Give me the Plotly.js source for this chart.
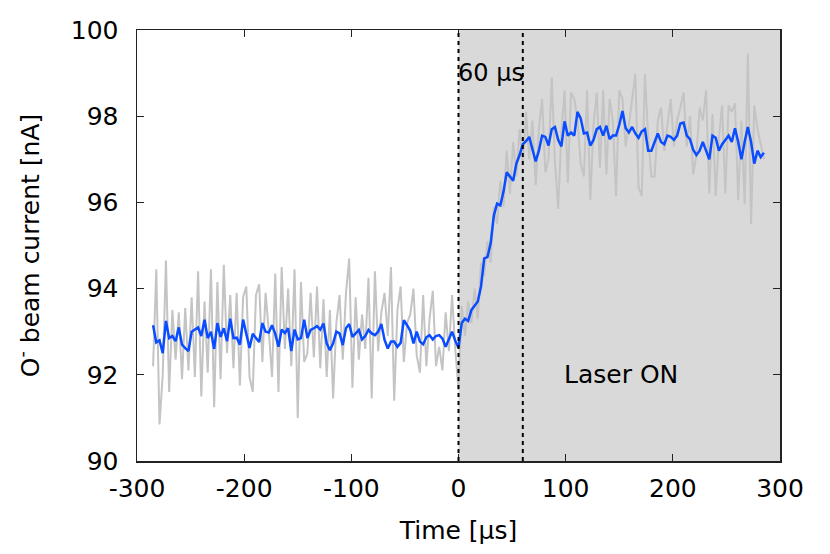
<!DOCTYPE html>
<html>
<head>
<meta charset="utf-8">
<script src="https://cdn.plot.ly/plotly-3.0.1.min.js"></script>
<style>
  html, body { margin: 0; padding: 0; background: #fff; }
  #chart { width: 830px; height: 554px; }
</style>
</head>
<body>
<div id="chart"></div>
<script>
// time axis, 3 µs steps from -285 to 285
var time = [];
for (var t = -285; t <= 285; t += 3) time.push(t);

// tick labels (plain hyphen as in the original)
var xTickVals = [-300, -200, -100, 0, 100, 200, 300];
var xTickText = ['-300', '-200', '-100', '0', '100', '200', '300'];
var yTickVals = [90, 92, 94, 96, 98, 100];

// raw beam current (grey), nA
var rawBefore = [
  92.2, 94.45, 90.85, 92.0, 94.65, 91.6, 93.5, 92.35, 93.45, 91.9,
  93.55, 92.1, 93.8, 91.95, 94.4, 91.5, 93.7, 92.05, 94.45, 91.25,
  94.15, 91.9, 94.55, 92.5, 93.85, 92.15, 93.9, 91.75, 93.8, 94.05,
  91.95, 91.6, 93.85, 94.1, 92.3, 93.9, 93.0, 91.95, 94.35, 91.6,
  94.5, 92.6, 94.0, 92.2, 94.45, 91.0, 94.15, 92.3,
  92.5, 93.9, 92.4, 94.05, 92.15, 93.75, 91.95, 93.5, 91.45, 93.2,
  93.85, 92.35, 93.9, 94.7, 91.7, 93.8, 92.35, 93.4, 92.6, 94.25,
  91.45, 94.4, 92.55, 93.45, 93.9, 92.9, 94.5, 91.4, 93.5, 94.05,
  92.3, 93.2, 93.4, 94.0, 92.45, 92.05, 93.85, 92.2, 93.3, 93.95,
  92.2, 92.65, 92.1, 93.45, 92.55, 93.85, 92.6, 91.65
];
var rawAfter = [
  93.6, 92.9, 93.7, 93.2, 94.0, 93.3, 94.6, 94.3, 95.1, 94.6,
  95.9, 95.5, 96.5, 95.9, 97.2, 96.2, 97.4, 96.6, 97.7, 96.9,
  98.1, 97.0, 97.9, 96.4, 97.7, 98.4, 96.7,
  97.0, 98.9, 96.95, 95.85, 97.6, 98.6, 96.45, 98.55, 98.4, 97.95,
  96.9, 96.6, 98.6, 96.05, 97.8, 98.55, 96.8, 98.6, 96.65, 98.4,
  97.9, 96.15, 98.6, 98.4, 97.3, 97.8, 98.45, 98.98, 96.35, 96.15,
  98.98, 97.5, 96.6, 96.6, 97.9, 98.2, 97.2, 97.8, 98.4, 97.3,
  97.9, 98.2, 98.55, 97.3, 98.0, 96.65, 97.1, 98.2, 97.9, 98.6,
  96.2, 98.05, 96.15, 97.5, 98.25, 96.2, 98.25, 98.1, 98.3, 96.05,
  97.9, 95.95, 99.45, 95.5, 98.25, 97.7, 97.35, 97.0
];

// smoothed beam current (blue), nA
var smoothBefore = [
  93.15, 92.75, 92.8, 92.5, 93.25, 92.85, 92.9, 92.78, 93.1, 92.7,
  92.62, 92.55, 93.0, 93.05, 93.1, 92.9, 93.28, 92.85, 93.0, 92.6,
  93.2, 92.88, 93.08, 92.78, 93.3, 92.85, 92.86, 92.7, 93.28, 92.95,
  92.62, 92.95, 92.85, 92.76, 93.2, 93.0, 92.98, 93.15, 92.95, 92.65,
  93.05, 92.97, 93.08, 92.55, 93.05, 92.82, 92.85, 93.28,
  92.85, 93.04, 93.08, 93.13, 93.05, 93.19, 92.73, 92.57, 92.73, 93.0,
  92.96, 92.69, 93.08, 93.18, 92.88, 92.96, 93.04, 92.82, 92.9, 93.04,
  92.96, 92.92, 93.0, 93.18, 92.81, 92.61, 92.77, 92.77, 92.65, 92.74,
  93.27, 93.15, 93.02, 92.73, 93.0, 92.77, 92.71, 92.87, 92.92, 92.82,
  92.9, 92.92, 92.84, 92.65, 92.81, 93.0, 92.79, 92.63
];
var smoothAfter = [
  93.2, 93.3, 93.25, 93.5, 93.6, 93.7, 94.05, 94.7, 94.73, 95.05,
  95.7, 95.97, 95.93, 96.25, 96.7, 96.6, 96.5, 96.9, 97.1, 97.35,
  97.42, 97.52, 97.2, 96.95, 97.2, 97.55, 97.52, 97.32, 97.7, 97.75,
  97.45, 97.3, 97.88, 97.55, 97.62, 97.55, 98.1, 97.95, 97.6, 97.62,
  97.32, 97.45, 97.7, 97.75, 97.55, 97.78, 97.47, 97.55, 97.55, 97.8,
  98.12, 97.72, 97.62, 97.75, 97.6, 97.5, 97.65, 97.7, 97.2, 97.2,
  97.4, 97.6, 97.4, 97.35, 97.55, 97.52, 97.45, 97.55, 97.83, 97.85,
  97.55, 97.47, 97.22, 97.1, 97.2, 97.4, 97.2, 97.0, 97.55, 97.5,
  97.2, 97.35, 97.45, 97.55, 97.4, 97.72, 97.4, 97.0, 97.4, 97.75,
  97.4, 96.9, 97.2, 97.05, 97.15
];

var raw = rawBefore.concat(rawAfter);
var smooth = smoothBefore.concat(smoothAfter);

var laserStart = 0;
var riseTime = 60;
var font = 'DejaVu Sans, sans-serif';

var rawTrace = {
  x: time, y: raw,
  type: 'scatter', mode: 'lines',
  line: {color: '#c4c4c4', width: 2},
  hoverinfo: 'skip'
};

var smoothTrace = {
  x: time, y: smooth,
  type: 'scatter', mode: 'lines',
  line: {color: '#0a4cff', width: 2.5}
};

var layout = {
  width: 830, height: 554,
  margin: {l: 137, r: 50, t: 30, b: 93},
  paper_bgcolor: '#fff',
  plot_bgcolor: 'rgba(0,0,0,0)',
  showlegend: false,
  font: {family: font, size: 25, color: '#000'},
  xaxis: {
    range: [-300, 300], tickvals: xTickVals, ticktext: xTickText,
    ticks: 'inside', ticklen: 7, tickwidth: 1, tickcolor: '#222',
    ticklabelstandoff: 4,
    showline: true, linecolor: '#222', linewidth: 1.5, mirror: 'ticks',
    showgrid: false, zeroline: false,
    title: {text: 'Time [µs]', font: {size: 25}, standoff: 20}
  },
  yaxis: {
    range: [90, 100], tickvals: yTickVals,
    ticks: 'inside', ticklen: 7, tickwidth: 1, tickcolor: '#222',
    ticklabelstandoff: 12,
    showline: true, linecolor: '#222', linewidth: 1.5, mirror: 'ticks',
    showgrid: false, zeroline: false,
    title: {text: 'O<sup>-</sup> beam current [nA]', font: {size: 25}, standoff: 24}
  },
  shapes: [
    {type: 'rect', xref: 'x', yref: 'paper', x0: laserStart, x1: 300, y0: 0, y1: 1,
     fillcolor: '#d9d9d9', line: {width: 0}, layer: 'below'},
    {type: 'line', xref: 'x', yref: 'paper', x0: laserStart, x1: laserStart, y0: 0, y1: 1,
     line: {color: '#000', width: 2, dash: '4px,4px'}},
    {type: 'line', xref: 'x', yref: 'paper', x0: riseTime, x1: riseTime, y0: 0, y1: 1,
     line: {color: '#000', width: 2, dash: '4px,4px'}}
  ],
  annotations: [
    {x: 30, y: 99.0, xref: 'x', yref: 'y', text: '60 µs', showarrow: false,
     font: {size: 24, color: '#000'}},
    {x: 152, y: 92.0, xref: 'x', yref: 'y', text: 'Laser ON', showarrow: false,
     font: {size: 25, color: '#000'}}
  ]
};

Plotly.newPlot('chart', [rawTrace, smoothTrace], layout, {displayModeBar: false, staticPlot: true});
</script>
</body>
</html>
